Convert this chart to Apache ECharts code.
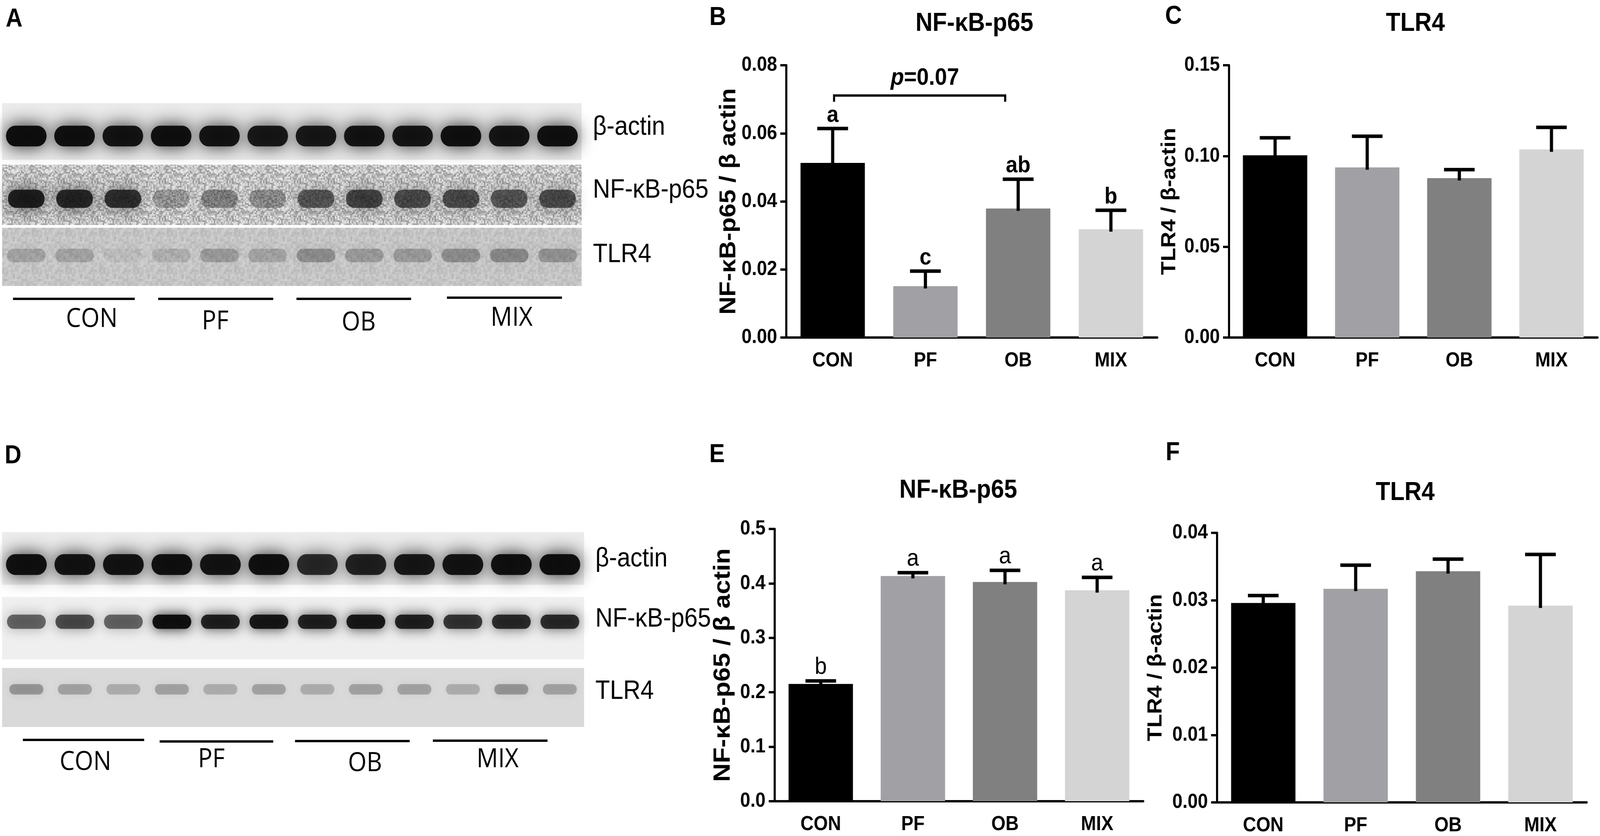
<!DOCTYPE html>
<html>
<head>
<meta charset="utf-8">
<script src="https://cdn.jsdelivr.net/npm/echarts/dist/echarts.min.js"></script>
<style>
html,body{margin:0;padding:0;background:#fff;overflow:hidden;}
#main{width:4550px;height:2140px;transform-origin:0 0;}
</style>
</head>
<body>
<div id="main"></div>
<script>
(function(){
    // groups
    var categories = ['CON', 'PF', 'OB', 'MIX'];

    // B: NF-kB-p65 / beta actin
    var nfkbB = [0.0513, 0.0151, 0.0379, 0.0318];
    var nfkbBErr = [0.0101, 0.0044, 0.0086, 0.0056];
    var nfkbBLetters = ['a', 'c', 'ab', 'b'];
    // C: TLR4 / beta-actin
    var tlr4C = [0.1004, 0.0937, 0.0878, 0.1036];
    var tlr4CErr = [0.0096, 0.0172, 0.0047, 0.0122];
    // E: NF-kB-p65 / beta actin
    var nfkbE = [0.2153, 0.4135, 0.4026, 0.3874];
    var nfkbEErr = [0.0057, 0.0062, 0.0214, 0.0236];
    var nfkbELetters = ['b', 'a', 'a', 'a'];
    // F: TLR4 / beta-actin
    var tlr4F = [0.0296, 0.0317, 0.0343, 0.0292];
    var tlr4FErr = [0.0011, 0.0035, 0.0018, 0.0076];

    // p value bracket in B (CON vs OB)
    var pBracket = [0, 2, 0.0711];
    var pText = '0.07';

    // western blot band intensities, 12 lanes (3 per group)
    var blotStrips = ['β-actin', 'NF-κB-p65', 'TLR4'];
    var blotA_actin = [0.97, 0.95, 0.93, 0.95, 0.93, 0.9, 0.9, 0.93, 0.92, 0.95, 0.92, 0.95];
    var blotA_nfkb = [0.85, 0.8, 0.75, 0.25, 0.35, 0.3, 0.55, 0.65, 0.6, 0.6, 0.55, 0.6];
    var blotA_tlr4 = [0.18, 0.18, 0.06, 0.12, 0.22, 0.18, 0.28, 0.22, 0.22, 0.28, 0.3, 0.26];
    var blotD_actin = [0.95, 0.93, 0.93, 0.95, 0.93, 0.95, 0.8, 0.85, 0.9, 0.93, 0.95, 0.97];
    var blotD_nfkb = [0.55, 0.65, 0.55, 0.95, 0.85, 0.9, 0.85, 0.9, 0.85, 0.75, 0.8, 0.8];
    var blotD_tlr4 = [0.3, 0.25, 0.2, 0.25, 0.2, 0.25, 0.2, 0.25, 0.25, 0.2, 0.3, 0.25];

    var FONT = "'Liberation Sans', Arial, Helvetica, sans-serif";
    var barColors = ['#000000', '#a1a1a5', '#808080', '#d4d4d4'];

    // the figure is laid out at 4550x2140, fit it to whatever viewport we get
    var el = document.getElementById('main');
    var sx = window.innerWidth / 4550, sy = window.innerHeight / 2140;
    if (Math.abs(sx - 1) > 0.001 || Math.abs(sy - 1) > 0.001) {
        el.style.transform = 'scale(' + sx + ',' + sy + ')';
    }
    var myChart = echarts.init(el);

    // speckle texture for the noisy film strips (deterministic)
    function speckle(base, spread, cell){
        var c = document.createElement('canvas');
        c.width = 96; c.height = 96;
        var ctx = c.getContext('2d');
        var s = 12345;
        for (var y = 0; y < 96; y += cell) {
            for (var x = 0; x < 96; x += cell) {
                s = (s * 1103515245 + 12345) % 2147483648;
                var g = Math.round(base + (s / 2147483648 - 0.5) * spread);
                ctx.fillStyle = 'rgb(' + g + ',' + g + ',' + g + ')';
                ctx.fillRect(x, y, cell, cell * 2);
            }
        }
        return {image:c, repeat:'repeat'};
    }

    var panels = [
        {grid:{left:2236, top:167, width:1055, height:697}, max:0.08, step:0.02, digits:2,
         name:'NF-κB-p65 / β actin', nameGap:120, nameSize:64,
         mean:nfkbB, err:nfkbBErr, letters:nfkbBLetters, letterBold:true},
        {grid:{left:3495, top:167, width:1048, height:697}, max:0.15, step:0.05, digits:2,
         name:'TLR4 / β-actin', nameGap:140, nameSize:57,
         mean:tlr4C, err:tlr4CErr, letters:null},
        {grid:{left:2203, top:1354, width:1048, height:697}, max:0.5, step:0.1, digits:1,
         name:'NF-κB-p65 / β actin', nameGap:113, nameSize:66,
         mean:nfkbE, err:nfkbEErr, letters:nfkbELetters, letterBold:false},
        {grid:{left:3461, top:1364, width:1051, height:695}, max:0.04, step:0.01, digits:2,
         name:'TLR4 / β-actin', nameGap:145, nameSize:57,
         mean:tlr4F, err:tlr4FErr, letters:null}
    ];

    var grids = [], xAxes = [], yAxes = [], series = [];

    panels.forEach(function(p, i){
        grids.push(p.grid);
        xAxes.push({
            type:'category', gridIndex:i, data:categories,
            axisLine:{lineStyle:{color:'#000', width:6}},
            axisTick:{alignWithLabel:true, length:18, lineStyle:{width:6, color:'#000'}},
            axisLabel:{color:'#000', fontSize:52, fontWeight:'bold', fontFamily:FONT, margin:34}
        });
        yAxes.push({
            type:'value', gridIndex:i, min:0, max:p.max, interval:p.step,
            name:p.name, nameLocation:'middle', nameRotate:90, nameGap:p.nameGap,
            nameTextStyle:{color:'#000', fontSize:p.nameSize, fontWeight:'bold', fontFamily:FONT},
            axisLine:{show:true, lineStyle:{color:'#000', width:6}},
            axisTick:{show:true, length:17, lineStyle:{width:6, color:'#000'}},
            splitLine:{show:false},
            axisLabel:{color:'#000', fontSize:52, fontWeight:'bold', fontFamily:FONT, margin:26,
                formatter:function(v){ return v.toFixed(p.digits); }}
        });
        series.push({
            type:'bar', xAxisIndex:i, yAxisIndex:i, barWidth:183, silent:true,
            data:p.mean.map(function(v, k){ return {value:v, itemStyle:{color:barColors[k]}}; })
        });
        series.push({
            type:'custom', xAxisIndex:i, yAxisIndex:i, silent:true, clip:false, z:3,
            data:p.mean.map(function(v, k){ return [k, v, p.err[k]]; }),
            renderItem:function(params, api){
                var k = api.value(0), m = api.value(1), e = api.value(2);
                var base = api.coord([k, m]);
                var top = api.coord([k, m + e]);
                var half = api.size([1, 0])[0] * 0.166;
                var kids = [
                    {type:'line', shape:{x1:top[0], y1:base[1] + 6, x2:top[0], y2:top[1]},
                     style:{stroke:'#000', lineWidth:9}},
                    {type:'line', shape:{x1:top[0] - half, y1:top[1], x2:top[0] + half, y2:top[1]},
                     style:{stroke:'#000', lineWidth:9}}
                ];
                if (p.letters) {
                    kids.push({type:'text', style:{
                        text:p.letters[params.dataIndex], x:top[0], y:top[1] - 4,
                        align:'center', verticalAlign:'bottom', fill:'#000',
                        fontSize:p.letterBold ? 60 : 62, fontWeight:p.letterBold ? 'bold' : 'normal',
                        fontFamily:FONT}});
                }
                return {type:'group', children:kids};
            }
        });
    });

    // p=0.07 bracket on B
    series.push({
        type:'custom', xAxisIndex:0, yAxisIndex:0, silent:true, clip:false, z:3,
        data:[pBracket],
        renderItem:function(params, api){
            var a = api.coord([api.value(0), api.value(2)]);
            var b = api.coord([api.value(1), api.value(2)]);
            var band = api.size([1, 0])[0];
            var x1 = a[0] + 4, x2 = b[0] - band * 0.14, y = a[1];
            return {type:'group', children:[
                {type:'polyline', shape:{points:[[x1, y + 16], [x1, y], [x2, y], [x2, y + 16]]},
                 style:{stroke:'#000', lineWidth:6, fill:null}},
                {type:'text', style:{
                    text:'{i|p}{n|=' + pText + '}', x:(x1 + x2) / 2 + 15, y:y - 45,
                    align:'center', verticalAlign:'middle',
                    rich:{
                        i:{fontSize:62, fontStyle:'italic', fontWeight:'bold', fontFamily:FONT, fill:'#000'},
                        n:{fontSize:62, fontWeight:'bold', fontFamily:FONT, fill:'#000'}
                    }}}
            ]};
        }
    });

    // blots
    var blots = [
        {grid:{left:6, top:264, width:1648, height:468}, lanes:[blotA_actin, blotA_nfkb, blotA_tlr4],
         bg:['#ebebeb', speckle(195, 90, 4), speckle(196, 26, 6)], inset:[[0, 0.07], [0.01, 0.0], [0.045, 0.0]],
         pos:[0.54, 0.57, 0.5], h:[0.34, 0.3, 0.22], w:[0.84, 0.76, 0.8], labelDy:[-10, -12, -5]},
        {grid:{left:6, top:1362, width:1655, height:499}, lanes:[blotD_actin, blotD_nfkb, blotD_tlr4],
         bg:['#ececec', '#efefef', '#d9d9d9'], inset:[[0, 0.19], [0.0, 0.04], [0.09, 0.0]],
         pos:[0.5, 0.38, 0.42], h:[0.32, 0.22, 0.16], w:[0.84, 0.8, 0.7], labelDy:[2, -23, -15]}
    ];

    blots.forEach(function(bl, j){
        var gi = 4 + j;
        grids.push(bl.grid);
        xAxes.push({type:'value', gridIndex:gi, min:0, max:12, show:false});
        yAxes.push({type:'value', gridIndex:gi, min:0, max:3, inverse:true, show:false});
        // strip backgrounds + right labels
        series.push({
            type:'custom', xAxisIndex:gi, yAxisIndex:gi, silent:true, clip:false, z:1,
            data:blotStrips.map(function(s, r){ return [r]; }),
            renderItem:function(params, api){
                var r = api.value(0);
                var ins = bl.inset[r];
                var p0 = api.coord([0, r + ins[0]]);
                var p1 = api.coord([12, r + 1 - ins[1]]);
                return {type:'group', children:[
                    {type:'rect', shape:{x:p0[0], y:p0[1], width:p1[0] - p0[0], height:p1[1] - p0[1]},
                     style:{fill:bl.bg[r]}},
                    {type:'text', style:{text:blotStrips[r], x:p1[0] + 32,
                        y:(p0[1] + p1[1]) / 2 + bl.labelDy[r],
                        align:'left', verticalAlign:'middle', fill:'#000',
                        fontSize:68, fontFamily:FONT}}
                ]};
            }
        });
        bl.lanes.forEach(function(vals, r){
            series.push({
                type:'custom', xAxisIndex:gi, yAxisIndex:gi, silent:true, clip:false, z:2,
                data:vals.map(function(v, lane){ return [lane, r, v]; }),
                renderItem:function(params, api){
                    var lane = api.value(0), row = api.value(1), v = api.value(2);
                    var c = api.coord([lane + 0.5, row + bl.pos[row]]);
                    var s = api.size([bl.w[row], bl.h[row]]);
                    var col = 'rgba(10,10,10,' + v + ')';
                    return {type:'rect',
                        shape:{x:c[0] - s[0] / 2, y:c[1] - s[1] / 2, width:s[0], height:s[1], r:s[1] / 2},
                        style:{fill:col, shadowBlur:s[1] * 0.9, shadowColor:col}};
                }
            });
        });
    });

    // annotations: panel letters, titles, group lines under blots
    var graphic = [];
    function txt(t, x, y, size, weight, align, family){
        graphic.push({type:'text', x:x, y:y, silent:true, style:{text:t, fill:'#000',
            fontSize:size, fontWeight:weight || 'normal', fontFamily:family || FONT,
            align:align || 'center', verticalAlign:'middle'}});
    }
    txt('A', 40, 50, 66, 'bold');
    txt('B', 2041, 46, 66, 'bold');
    txt('C', 3337, 43, 66, 'bold');
    txt('D', 37, 1168, 66, 'bold');
    txt('E', 2039, 1165, 66, 'bold');
    txt('F', 3335, 1160, 66, 'bold');
    txt('NF-κB-p65', 2771, 61, 67, 'bold');
    txt('TLR4', 4025, 61, 67, 'bold');
    txt('NF-κB-p65', 2725, 1256, 67, 'bold');
    txt('TLR4', 3996, 1262, 67, 'bold');

    var groupLinesA = [[37, 383, 765], [450, 777, 765], [843, 1169, 765], [1271, 1598, 762]];
    var groupTextA = [[261, 818], [612, 824], [1020, 827], [1455, 815]];
    var groupLinesD = [[65, 410, 1894], [454, 777, 1898], [839, 1165, 1897], [1231, 1557, 1896]];
    var groupTextD = [[243, 1952], [601, 1945], [1038, 1955], [1415, 1945]];
    [[groupLinesA, groupTextA], [groupLinesD, groupTextD]].forEach(function(g){
        g[0].forEach(function(l, k){
            graphic.push({type:'line', silent:true, shape:{x1:l[0], y1:l[2], x2:l[1], y2:l[2]},
                style:{stroke:'#000', lineWidth:6}});
            txt(categories[k], g[1][k][0], g[1][k][1], 68, 'normal', 'center', "'Open Sans', 'Noto Sans', sans-serif");
        });
    });

    var option = {
        backgroundColor:'#ffffff',
        animation:false,
        grid:grids,
        xAxis:xAxes,
        yAxis:yAxes,
        series:series,
        graphic:graphic
    };
    myChart.setOption(option);
})();
</script>
</body>
</html>
